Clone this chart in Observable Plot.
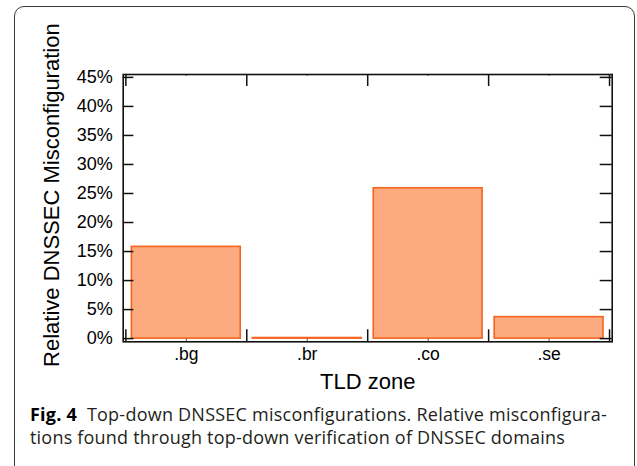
<!DOCTYPE html>
<html>
<head>
<meta charset="utf-8">
<script src="https://cdn.jsdelivr.net/npm/d3@7"></script>
<script src="https://cdn.jsdelivr.net/npm/@observablehq/plot@0.6"></script>
<style>
  html, body { margin: 0; padding: 0; background: #fff; width: 637px; height: 466px; overflow: hidden; }
  #box { position: absolute; left: 14px; top: 6px; width: 621px; height: 470px; box-sizing: border-box;
         border: 1.3px solid #3a3a3a; border-radius: 10px; }
  #chart { position: absolute; left: 0; top: 0; }
  #caption { position: absolute; left: 30px; top: 403px; font-family: "Open Sans", "Noto Sans", sans-serif;
             font-size: 18px; line-height: 23px; color: #231f20; white-space: nowrap; }
  #caption b { color: #000; }
  .ln { display: block; }
</style>
</head>
<body>
<div id="box"></div>
<div id="chart"></div>
<div id="caption">
  <span class="ln" id="l1"><b>Fig. 4</b>&nbsp;&nbsp;Top-down DNSSEC misconfigurations. Relative misconfigura-</span>
  <span class="ln" id="l2">tions found through top-down verification of DNSSEC domains</span>
</div>
<script>
// Data
const zones = [".bg", ".br", ".co", ".se"];
const misconfig = [15.8, 0.1, 25.9, 3.7];   // percent
const yTicks = [0, 5, 10, 15, 20, 25, 30, 35, 40, 45];
const xLabel = "TLD zone";
const yLabel = "Relative DNSSEC Misconfiguration";

const data = zones.map((z, i) => ({zone: z, i, value: misconfig[i]}));
const boundaries = d3.range(zones.length + 1);
const centers = zones.map((z, i) => i + 0.5);

const W = 637, H = 400;
const mL = 122.7, mR = 25.3, mT = 74, mB = H - 341.3;
const frameW = W - mL - mR, frameH = H - mT - mB;
const font = "Liberation Sans, Arial, Helvetica, sans-serif";
const ink = "#111";

const chart = Plot.plot({
  width: W, height: H,
  marginLeft: mL, marginRight: mR, marginTop: mT, marginBottom: mB,
  style: {fontFamily: font, background: "transparent", overflow: "visible"},
  x: {type: "linear", domain: [-0.022, zones.length + 0.022], axis: null},
  y: {domain: [-0.55, 45.5], axis: null},
  marks: [
    Plot.rectY(data, {x1: d => d.i + 0.05, x2: d => d.i + 0.95, y1: 0, y2: "value",
      fill: "#fcab80", stroke: "#f5631d", strokeWidth: 1.6}),
    // left & right y ticks (inward)
    Plot.tickY(yTicks, {y: d => d, insetRight: frameW - 10.7, stroke: ink, strokeWidth: 1.5}),
    Plot.tickY(yTicks, {y: d => d, insetLeft: frameW - 12, stroke: ink, strokeWidth: 1.5}),
    // major x ticks at band boundaries, bottom and top
    Plot.tickX(boundaries, {x: d => d, insetTop: frameH - 12, stroke: ink, strokeWidth: 1.5}),
    Plot.tickX(boundaries, {x: d => d, insetBottom: frameH - 12, stroke: ink, strokeWidth: 1.5}),
    // minor x ticks at band centers
    Plot.tickX(centers, {x: d => d, insetTop: frameH - 3, stroke: "#555", strokeWidth: 1}),
    Plot.tickX(centers, {x: d => d, insetBottom: frameH - 2, stroke: "#555", strokeWidth: 1}),
    Plot.frame({stroke: ink, strokeWidth: 1.6}),
    // y tick labels
    Plot.text(yTicks, {y: d => d, text: d => d + "%", frameAnchor: "left", textAnchor: "end",
      dx: -10.5, fontSize: 18, fill: "#000"}),
    // x tick labels
    Plot.text(data, {x: d => d.i + 0.5, text: "zone", frameAnchor: "bottom", dy: 18,
      fontSize: 17.5, fill: "#000"}),
    // axis titles
    Plot.text([xLabel], {text: d => d, frameAnchor: "bottom", dy: 46.7, fontSize: 22, fill: "#000"}),
    Plot.text([yLabel], {text: d => d, frameAnchor: "left", textAnchor: "middle", rotate: -90,
      dx: -71.7, dy: -13, fontSize: 22, fill: "#000"})
  ]
});
document.getElementById("chart").appendChild(chart);

// fit caption lines to the measured widths of the reference
function fit(id, target) {
  const el = document.getElementById(id);
  const n = el.textContent.length;
  el.style.letterSpacing = "0px";
  const r = document.createRange(); r.selectNodeContents(el);
  const tw = r.getBoundingClientRect().width;
  el.style.letterSpacing = ((target - tw) / n) + "px";
}
(document.fonts ? document.fonts.ready : Promise.resolve()).then(() => {
  fit("l1", 577);
  fit("l2", 535);
});
</script>
</body>
</html>
